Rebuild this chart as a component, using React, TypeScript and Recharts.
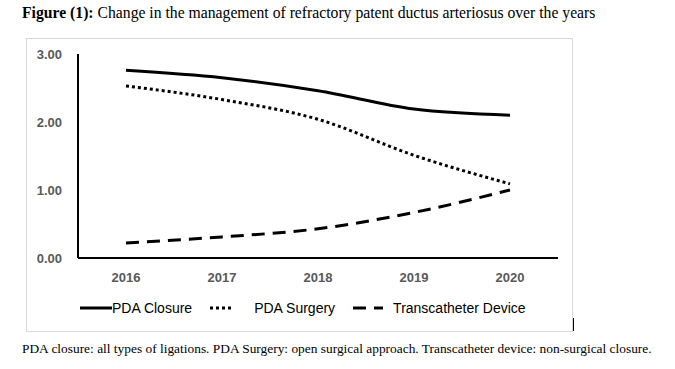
import { LineChart, Line, XAxis, YAxis, Legend } from "recharts";

const years = ["2016", "2017", "2018", "2019", "2020"];
const pdaClosure = [2.76, 2.65, 2.46, 2.19, 2.1];
const pdaSurgery = [2.53, 2.33, 2.04, 1.51, 1.09];
const transcatheter = [0.22, 0.31, 0.43, 0.67, 1.0];
const yTicks = [0, 1, 2, 3];

const seriesInfo = [
  { key: "closure", name: "PDA Closure", dash: undefined as string | undefined, sample: 32, gap: 0 },
  { key: "surgery", name: "PDA Surgery", dash: "3 3", sample: 24, gap: 20 },
  { key: "device", name: "Transcatheter Device", dash: "13 8", sample: 30, gap: 10 },
];

const chartData = years.map((y, i) => ({
  year: y,
  closure: pdaClosure[i],
  surgery: pdaSurgery[i],
  device: transcatheter[i],
}));

const tickStyle = { fill: "#595959", fontSize: 13, fontWeight: 700, fontFamily: "Liberation Sans, Arial, sans-serif" };

function LegendBox() {
  return (
    <div style={{ display: "flex", alignItems: "center", fontFamily: "Liberation Sans, Arial, sans-serif", fontSize: 14, color: "#000" }}>
      {seriesInfo.map((s) => (
        <div key={s.key} style={{ display: "flex", alignItems: "center", marginRight: 18 }}>
          <svg width={s.sample} height={6} style={{ marginRight: s.gap }}>
            <line x1={0} y1={3} x2={s.sample} y2={3} stroke="#000" strokeWidth={3} strokeDasharray={s.dash} />
          </svg>
          <span>{s.name}</span>
        </div>
      ))}
    </div>
  );
}

export default function App() {
  return (
    <div style={{ position: "absolute", left: 0, top: 0, width: 675, height: 369, background: "#fff", fontFamily: "Liberation Serif, Times New Roman, serif" }}>
      <div style={{ position: "absolute", left: 22, top: 4, fontSize: 15.7, whiteSpace: "nowrap", color: "#000" }}>
        <b>Figure (1):</b> Change in the management of refractory patent ductus arteriosus over the years
      </div>
      <div style={{ position: "absolute", left: 26, top: 38, width: 545, height: 292, border: "1px solid #d9d9d9" }} />
      <div style={{ position: "absolute", left: 573, top: 318, width: 1, height: 13, background: "#000" }} />
      <div style={{ position: "absolute", left: 0, top: 0 }}>
        <LineChart width={675} height={369} data={chartData} margin={{ top: 54, right: 117, left: 18, bottom: 81 }}>
          <XAxis
            dataKey="year"
            padding={{ left: 48, right: 48 }}
            axisLine={{ stroke: "#000", strokeWidth: 2 }}
            tickLine={false}
            tickSize={0}
            tickMargin={15}
            tick={tickStyle}
            height={30}
          />
          <YAxis
            domain={[0, 3]}
            ticks={yTicks}
            tickFormatter={(v: number) => v.toFixed(2)}
            axisLine={{ stroke: "#000", strokeWidth: 2 }}
            tickLine={false}
            tickSize={0}
            tickMargin={16}
            tick={tickStyle}
            width={60}
          />
          <Legend
            verticalAlign="middle"
            content={() => <LegendBox />}
            wrapperStyle={{ position: "absolute", left: 80, top: 300, width: 480, height: 20 }}
          />
          {seriesInfo.map((s) => (
            <Line
              key={s.key}
              type="monotone"
              dataKey={s.key}
              name={s.name}
              stroke="#000"
              strokeWidth={3}
              strokeDasharray={s.dash}
              dot={false}
              activeDot={false}
              isAnimationActive={false}
            />
          ))}
        </LineChart>
      </div>
      <div style={{ position: "absolute", left: 22, top: 341, fontSize: 13.4, whiteSpace: "nowrap", color: "#000" }}>
        PDA closure: all types of ligations. PDA Surgery: open surgical approach. Transcatheter device: non-surgical closure.
      </div>
    </div>
  );
}
